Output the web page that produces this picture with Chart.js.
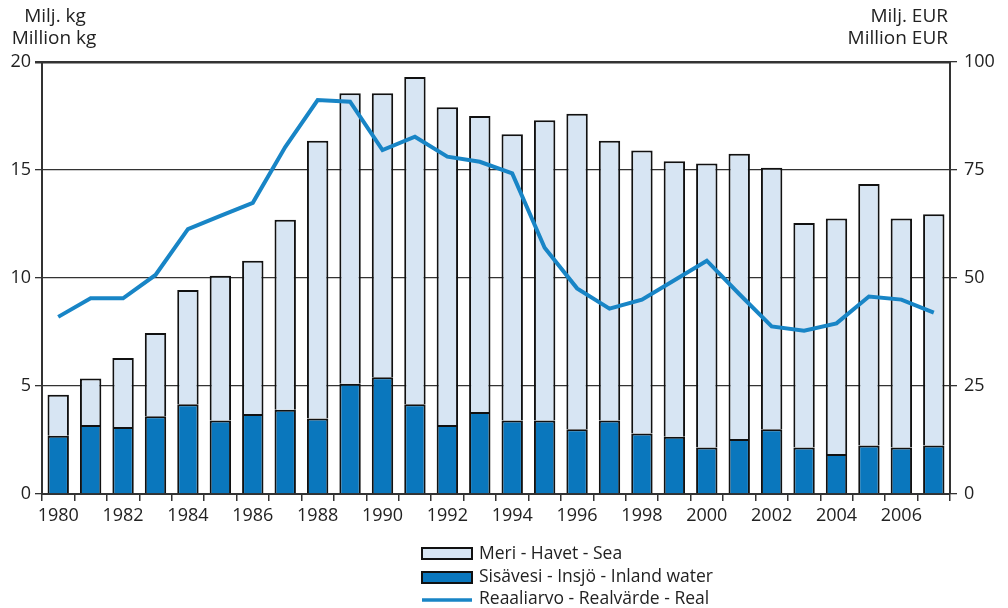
<!DOCTYPE html>
<html>
<head>
<meta charset="utf-8">
<script src="https://cdn.jsdelivr.net/npm/chart.js@4"></script>
<style>
  html, body { margin: 0; padding: 0; background: #fff; }
  #wrap { width: 1008px; height: 608px; }
</style>
</head>
<body>
<div id="wrap"><canvas id="myChart" width="1008" height="608"></canvas></div>
<script>
// Vuodet / år / years
const vuodet = [1980, 1981, 1982, 1983, 1984, 1985, 1986, 1987, 1988, 1989,
                1990, 1991, 1992, 1993, 1994, 1995, 1996, 1997, 1998, 1999,
                2000, 2001, 2002, 2003, 2004, 2005, 2006, 2007];

// Sisävesi - Insjö - Inland water (milj. kg)
const sisavesi = [2.7, 3.2, 3.1, 3.6, 4.15, 3.4, 3.7, 3.9, 3.5, 5.1,
                  5.4, 4.15, 3.2, 3.8, 3.4, 3.4, 3.0, 3.4, 2.8, 2.65,
                  2.15, 2.55, 3.0, 2.15, 1.85, 2.25, 2.15, 2.25];

// Meri - Havet - Sea (milj. kg), stacked on top of inland water
const meri = [1.9, 2.15, 3.2, 3.85, 5.3, 6.7, 7.1, 8.8, 12.85, 13.45,
              13.15, 15.15, 14.7, 13.7, 13.25, 13.9, 14.6, 12.95, 13.1, 12.75,
              13.15, 13.2, 12.1, 10.4, 10.9, 12.1, 10.6, 10.7];

// Reaaliarvo - Realvärde - Real (milj. EUR)
const reaaliarvo = [41.0, 45.3, 45.3, 50.7, 61.3, 64.4, 67.4, 80.3, 91.2, 90.8,
                    79.6, 82.7, 78.1, 76.9, 74.2, 57.0, 47.6, 42.9, 45.0, 49.5,
                    54.0, 46.3, 38.8, 37.8, 39.5, 45.7, 45.0, 42.0];

const vasenTicks = [0, 5, 10, 15, 20];
const oikeaTicks = [0, 25, 50, 75, 100];

const nimet = ['Meri - Havet - Sea', 'Sisävesi - Insjö - Inland water', 'Reaaliarvo - Realvärde - Real'];

const VAALEA = '#d7e5f3';
const TUMMA = '#0a77bd';
const VIIVA = '#1885c6';
const FONT = "'Open Sans', 'DejaVu Sans', sans-serif";

// Otsikot ja selite piirretään itse
const tekstit = {
    id: 'tekstit',
    afterDraw(chart) {
        const c = chart.ctx;
        c.save();
        c.fillStyle = '#222';
        c.font = '19px ' + FONT;
        c.textBaseline = 'middle';
        c.textAlign = 'center';
        c.fillText('Milj. kg', 55, 17);
        c.fillText('Million kg', 54, 39);
        c.textAlign = 'right';
        c.fillText('Milj. EUR', 948, 17);
        c.fillText('Million EUR', 948, 39);

        // selite
        c.lineWidth = 2;
        c.strokeStyle = '#111';
        c.fillStyle = VAALEA;
        c.fillRect(422, 548, 50, 11);
        c.strokeRect(422, 548, 50, 11);
        c.fillStyle = TUMMA;
        c.fillRect(422, 572, 50, 11);
        c.strokeRect(422, 572, 50, 11);
        c.strokeStyle = VIIVA;
        c.lineWidth = 3.5;
        c.beginPath();
        c.moveTo(422, 600);
        c.lineTo(472, 600);
        c.stroke();

        c.fillStyle = '#222';
        c.textAlign = 'left';
        c.font = '17.5px ' + FONT;
        c.fillText(nimet[0], 479, 554);
        c.fillText(nimet[1], 479, 577);
        c.fillText(nimet[2], 479, 599);
        c.restore();
    }
};

const ctx = document.getElementById('myChart').getContext('2d');

new Chart(ctx, {
    type: 'bar',
    data: {
        labels: vuodet,
        datasets: [
            {
                type: 'line',
                label: nimet[2],
                data: reaaliarvo,
                yAxisID: 'y1',
                borderColor: VIIVA,
                borderWidth: 4,
                pointRadius: 0,
                tension: 0,
                order: 0
            },
            {
                label: nimet[1],
                data: sisavesi,
                yAxisID: 'y',
                backgroundColor: TUMMA,
                borderColor: '#111',
                borderWidth: 2,
                borderSkipped: 'bottom',
                order: 1
            },
            {
                label: nimet[0],
                data: meri,
                yAxisID: 'y',
                backgroundColor: VAALEA,
                borderColor: '#111',
                borderWidth: 2,
                borderSkipped: 'bottom',
                order: 1
            }
        ]
    },
    options: {
        responsive: false,
        animation: false,
        layout: { padding: { top: 62, bottom: 74, left: 0, right: 0 } },
        datasets: {
            bar: { categoryPercentage: 1, barPercentage: 0.66 }
        },
        plugins: {
            legend: { display: false },
            tooltip: { enabled: false }
        },
        scales: {
            x: {
                stacked: true,
                offset: true,
                afterFit: s => { s.height = 40; },
                grid: {
                    offset: true,
                    drawOnChartArea: false,
                    drawTicks: true,
                    tickLength: 7,
                    color: '#333',
                    lineWidth: 1.5
                },
                border: { color: '#333', width: 2 },
                ticks: {
                    autoSkip: false,
                    maxRotation: 0,
                    padding: 4,
                    color: '#222',
                    font: { family: FONT, size: 18 },
                    callback: (v, i) => (i % 2 === 0 ? vuodet[i] : '')
                }
            },
            y: {
                stacked: true,
                position: 'left',
                min: 0,
                max: 20,
                afterFit: s => { s.width = 42; },
                afterBuildTicks: s => { s.ticks = vasenTicks.map(v => ({ value: v })); },
                grid: {
                    color: '#333',
                    lineWidth: c => (c.tick && c.tick.value === 20 ? 2.5 : 1.3),
                    tickLength: 7
                },
                border: { color: '#333', width: 2 },
                ticks: {
                    padding: 4,
                    color: '#222',
                    font: { family: FONT, size: 18 }
                }
            },
            y1: {
                position: 'right',
                min: 0,
                max: 100,
                afterFit: s => { s.width = 58; },
                afterBuildTicks: s => { s.ticks = oikeaTicks.map(v => ({ value: v })); },
                grid: {
                    drawOnChartArea: false,
                    color: '#333',
                    lineWidth: 1.3,
                    tickLength: 7
                },
                border: { color: '#333', width: 2 },
                ticks: {
                    padding: 7,
                    color: '#222',
                    font: { family: FONT, size: 18 }
                }
            }
        }
    },
    plugins: [tekstit]
});
</script>
</body>
</html>
